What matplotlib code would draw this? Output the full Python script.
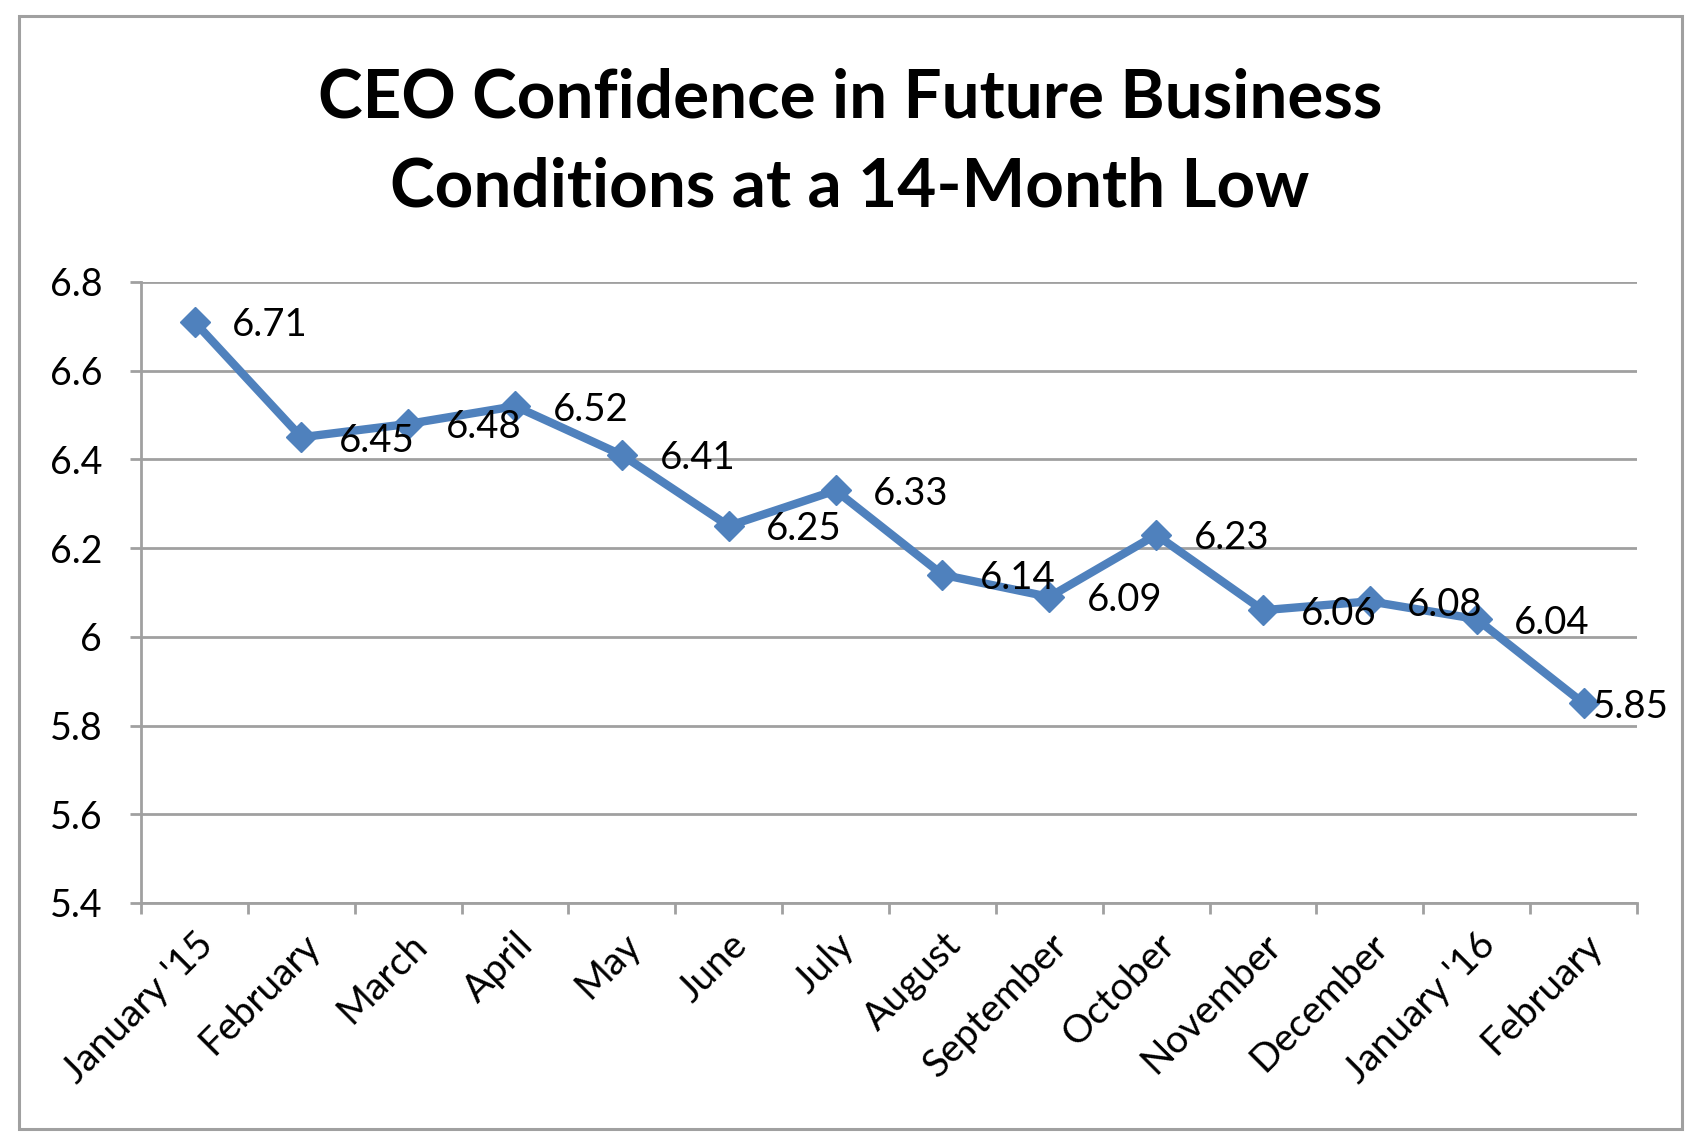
"""CEO confidence line chart, Excel-style, redrawn with matplotlib."""

import matplotlib

matplotlib.use("Agg")
import matplotlib.pyplot as plt
from matplotlib.patches import Rectangle

MONTHS = [
    "January '15", "February", "March", "April", "May", "June", "July",
    "August", "September", "October", "November", "December",
    "January '16", "February",
]
CONFIDENCE = [6.71, 6.45, 6.48, 6.52, 6.41, 6.25, 6.33,
              6.14, 6.09, 6.23, 6.06, 6.08, 6.04, 5.85]
Y_TICKS = [5.4, 5.6, 5.8, 6.0, 6.2, 6.4, 6.6, 6.8]

LINE = "#4F81BD"
GRID = "#A0A0A0"
TEXT = "#000000"
OFFSET = 27


def main() -> None:
    plt.rcParams.update({
        "font.family": ["Lato", "DejaVu Sans"],
        "text.color": TEXT,
        "xtick.color": TEXT,
        "ytick.color": TEXT,
    })
    fig = plt.figure(figsize=(17.02, 11.44), dpi=100)
    ax = fig.add_axes([0.0829, 0.2107, 0.8789, 0.5428])

    # chart-area frame
    fig.patches.append(Rectangle((0.0109, 0.0131), 0.9774, 0.9729,
                                 transform=fig.transFigure, fill=False,
                                 edgecolor=GRID, linewidth=2.2))

    fig.text(0.4995, 0.8977, "CEO Confidence in Future Business",
             ha="center", va="baseline", fontsize=48.5, fontweight="bold")
    fig.text(0.4995, 0.8199, "Conditions at a 14-Month Low",
             ha="center", va="baseline", fontsize=48.5, fontweight="bold")

    x = list(range(len(MONTHS)))
    ax.plot(x, CONFIDENCE, color=LINE, linewidth=6, marker="D",
            markersize=15.5, markeredgecolor=LINE, zorder=3, clip_on=False)

    labels = []
    for i, v in zip(x, CONFIDENCE):
        labels.append(ax.annotate(f"{v:.2f}", (i, v), xytext=(OFFSET, -2.5),
                                  textcoords="offset points", ha="left",
                                  va="center", fontsize=27.5, zorder=4))

    ax.set_xlim(-0.5, len(MONTHS) - 0.5)
    ax.set_ylim(Y_TICKS[0], Y_TICKS[-1])
    ax.set_yticks(Y_TICKS, [f"{t:g}" for t in Y_TICKS], fontsize=27)
    ax.set_xticks(x, MONTHS, fontsize=28, rotation=45, ha="right",
                  rotation_mode="anchor")
    ax.set_xticks([i - 0.5 for i in range(len(MONTHS) + 1)], minor=True)
    ax.tick_params(axis="x", which="major", length=0, pad=17)
    ax.tick_params(axis="x", which="minor", length=8, width=2, color=GRID)
    ax.tick_params(axis="y", length=8, width=2, color=GRID, pad=20)

    ax.grid(axis="y", color=GRID, linewidth=2, zorder=0)
    ax.set_axisbelow(True)
    for side in ("top", "right"):
        ax.spines[side].set_visible(False)
    for side in ("left", "bottom"):
        ax.spines[side].set_color(GRID)
        ax.spines[side].set_linewidth(2)

    # keep data labels inside the chart frame, as Excel does
    fig.canvas.draw()
    limit = 0.9806 * fig.bbox.width
    for ann in labels:
        bb = ann.get_window_extent()
        if bb.x1 > limit:
            shift = (bb.x1 - limit) * 72 / fig.dpi
            ann.set_position((OFFSET - shift, -2.5))

    fig.savefig("out.png", dpi=100)


if __name__ == "__main__":
    main()
